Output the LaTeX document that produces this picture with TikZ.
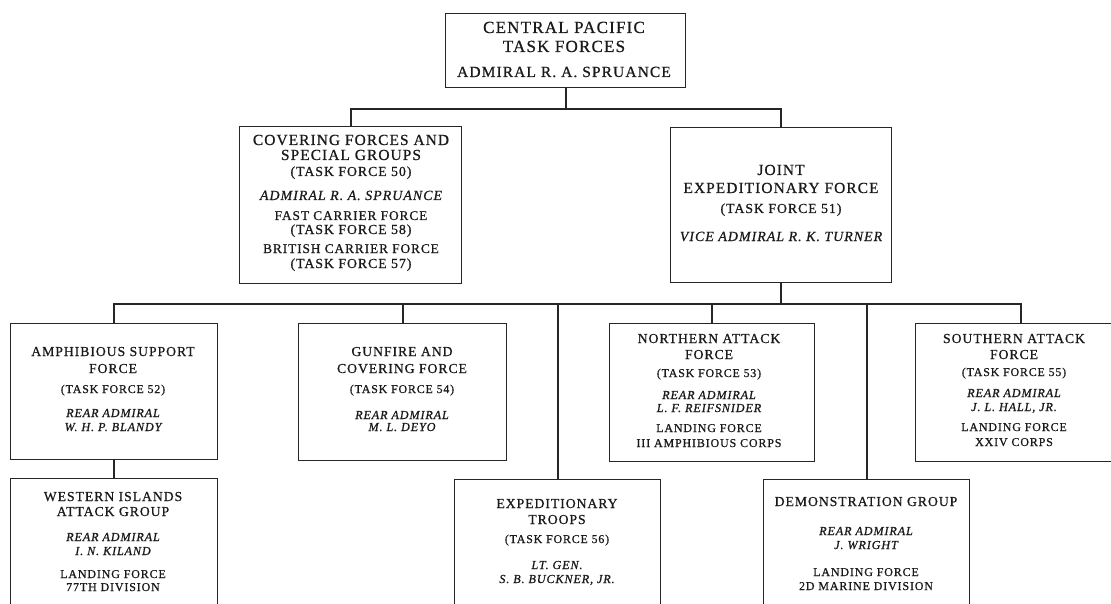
\documentclass[tikz,border=0pt]{standalone}
\usepackage{fontspec}
\setmainfont[LetterSpace=7, FakeBold=0.7]{Liberation Serif}
\definecolor{ink}{HTML}{1A1A1A}
\definecolor{rule}{HTML}{262626}
\tikzset{
  box/.style={draw=rule, line width=1.3pt, rectangle, inner sep=0pt, anchor=north west},
  conn/.style={draw=rule, line width=1.8pt},
  tx/.style={anchor=base, inner sep=0pt, text=ink},
  tp/.style={tx, font=\fontsize{17}{19}\selectfont},
  tpa/.style={tx, font=\fontsize{15.5}{17}\selectfont},
  tb/.style={tx, font=\fontsize{15.4}{17}\selectfont},
  tm/.style={tx, font=\fontsize{13.3}{15}\selectfont},
  tf/.style={tx, font=\fontsize{13.8}{15}\selectfont},
  ti/.style={tx, font=\fontsize{14}{15}\selectfont\itshape},
  tc/.style={tx, font=\fontsize{13.7}{15}\selectfont},
  tg/.style={tx, font=\fontsize{11.9}{13}\selectfont},
  ts/.style={tx, font=\fontsize{12.2}{13}\selectfont\itshape},
  tl/.style={tx, font=\fontsize{12}{13}\selectfont},
}
\newcommand\boxlines[3]{\foreach \yy/\st/\tx [count=\i] in {#3} {\node[\st, name=#1-\i] at (#2,\yy) {\tx};}}
\begin{document}
\begin{tikzpicture}[x=1pt,y=-1pt]
\useasboundingbox (0,0) rectangle (1111,604);
\clip (0,0) rectangle (1111,604);
\fill[white] (0,0) rectangle (1111,604);
% boxes
\node[box, minimum width=240pt, minimum height=74pt] (cpf) at (445,13) {};
\node[box, minimum width=222pt, minimum height=157pt] (cov) at (239,126) {};
\node[box, minimum width=221pt, minimum height=155pt] (jef) at (670,127) {};
\node[box, minimum width=207pt, minimum height=136pt] (amp) at (10,323) {};
\node[box, minimum width=208pt, minimum height=137pt] (gun) at (298,323) {};
\node[box, minimum width=205pt, minimum height=138pt] (nor) at (609,323) {};
\node[box, minimum width=210pt, minimum height=138pt] (sou) at (915,323) {};
\node[box, minimum width=207pt, minimum height=140pt] (wes) at (10,478) {};
\node[box, minimum width=206pt, minimum height=140pt] (exp) at (454,479) {};
\node[box, minimum width=206pt, minimum height=140pt] (dem) at (763,479) {};
% connectors
\coordinate (l1) at (0,109);
\coordinate (l2) at (0,304);
\coordinate (b1) at (cpf.south |- l1);
\coordinate (b2) at (jef.south |- l2);
\draw[conn] (cpf.south) -- (b1);
\draw[conn] (cov.north) |- (b1) -| (jef.north);
\draw[conn] (jef.south) -- (b2);
\draw[conn] (amp.north) |- (b2) -| (sou.north);
\draw[conn] (gun.north) -- (gun.north |- b2);
\draw[conn] (exp.north) -- (exp.north |- b2);
\draw[conn] (nor.north) -- (nor.north |- b2);
\draw[conn] (dem.north) -- (dem.north |- b2);
\draw[conn] (amp.south) -- (wes.north);
% texts
\boxlines{cpft}{564}{33/tp/CENTRAL PACIFIC, 52/tp/TASK FORCES, 77/tpa/ADMIRAL R. A. SPRUANCE}
\boxlines{covt}{351}{145/tb/COVERING FORCES AND, 160/tb/SPECIAL GROUPS, 176/tf/(TASK FORCE 50), 200/ti/ADMIRAL R. A. SPRUANCE, 220/tm/FAST CARRIER FORCE, 234/tf/(TASK FORCE 58), 253/tm/BRITISH CARRIER FORCE, 268/tf/(TASK FORCE 57)}
\boxlines{jeft}{781}{175/tb/JOINT, 193/tb/EXPEDITIONARY FORCE, 213/tf/(TASK FORCE 51), 241/ti/VICE ADMIRAL R. K. TURNER}
\boxlines{ampt}{113}{356/tc/AMPHIBIOUS SUPPORT, 373/tc/FORCE, 393/tg/(TASK FORCE 52), 417/ts/REAR ADMIRAL, 431/ts/W. H. P. BLANDY}
\boxlines{gunt}{402}{356/tc/GUNFIRE AND, 373/tc/COVERING FORCE, 393/tg/(TASK FORCE 54), 419/ts/REAR ADMIRAL, 431/ts/M. L. DEYO}
\boxlines{nort}{709}{343/tc/NORTHERN ATTACK, 359/tc/FORCE, 377/tg/(TASK FORCE 53), 399/ts/REAR ADMIRAL, 412/ts/L. F. REIFSNIDER, 432/tl/LANDING FORCE, 447/tl/III AMPHIBIOUS CORPS}
\boxlines{sout}{1014}{343/tc/SOUTHERN ATTACK, 359/tc/FORCE, 376/tg/(TASK FORCE 55), 397/ts/REAR ADMIRAL, 411/ts/{J. L. HALL, JR.}, 431/tl/LANDING FORCE, 446/tl/XXIV CORPS}
\boxlines{west}{113}{501/tc/WESTERN ISLANDS, 516/tc/ATTACK GROUP, 541/ts/REAR ADMIRAL, 555/ts/I. N. KILAND, 578/tl/LANDING FORCE, 591/tl/77TH DIVISION}
\boxlines{expt}{557}{508/tc/EXPEDITIONARY, 524/tc/TROOPS, 543/tg/(TASK FORCE 56), 569/ts/LT. GEN., 583/ts/{S. B. BUCKNER, JR.}}
\boxlines{demt}{866}{506/tc/DEMONSTRATION GROUP, 535/ts/REAR ADMIRAL, 549/ts/J. WRIGHT, 576/tl/LANDING FORCE, 590/tl/2D MARINE DIVISION}
\end{tikzpicture}
\end{document}
